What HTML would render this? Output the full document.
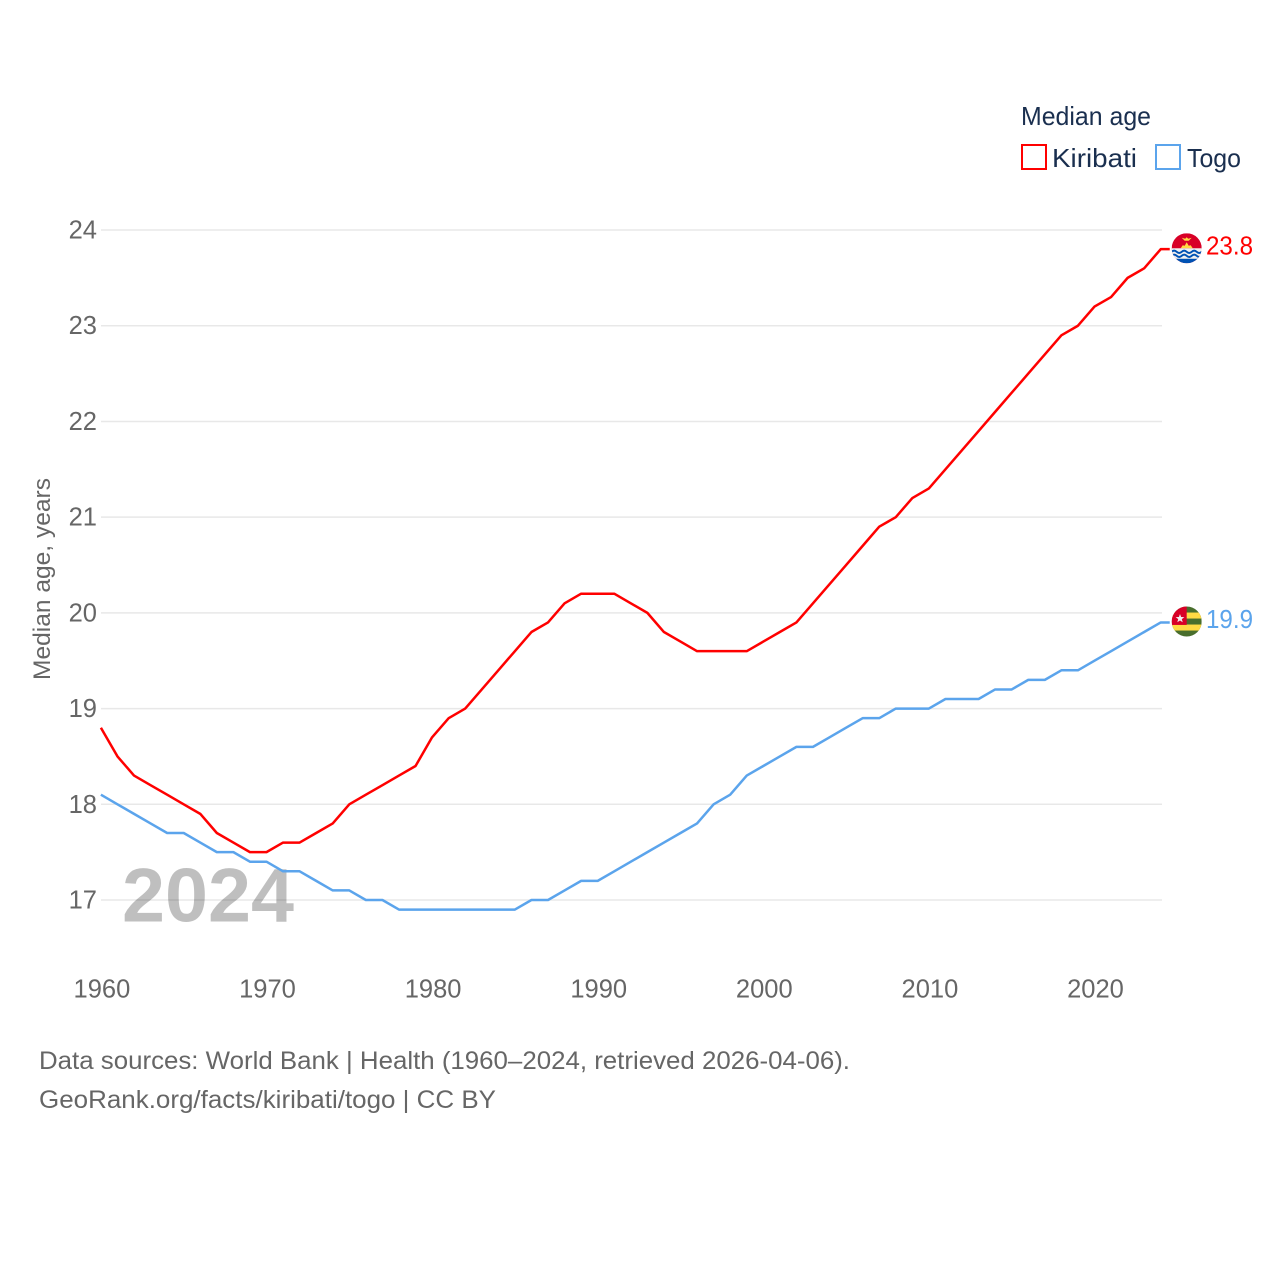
<!DOCTYPE html>
<html lang="en">
<head>
<meta charset="utf-8">
<title>Median age: Kiribati and Togo</title>
<style>
html,body{margin:0;padding:0;background:#fff;width:1280px;height:1280px;overflow:hidden}
svg{display:block}
text{font-family:"Liberation Sans",sans-serif}
</style>
</head>
<body>
<svg id="chart" xmlns="http://www.w3.org/2000/svg" width="1280" height="1280" viewBox="0 0 1280 1280">
  <rect width="1280" height="1280" fill="#fff"/>
  <defs>
    <clipPath id="flag-clip"><circle cx="0" cy="0" r="15"/></clipPath>
  </defs>
  <g id="grid"></g>
  <text x="122" y="921.5" font-size="76" font-weight="700" fill="#000" fill-opacity="0.25" textLength="172" lengthAdjust="spacingAndGlyphs">2024</text>
  <g id="y-ticks"></g>
  <g id="x-ticks"></g>
  <text transform="translate(50,680) rotate(-90)" font-size="24.5" fill="#666" textLength="202" lengthAdjust="spacingAndGlyphs">Median age, years</text>
  <g id="series"></g>

  <g>
    <text x="1021" y="125" font-size="26" fill="#1a2f4f" textLength="130" lengthAdjust="spacingAndGlyphs">Median age</text>
    <g>
      <rect x="1022" y="145" width="24" height="24" fill="#fff" stroke="#ff0000" stroke-width="2"/>
      <text x="1052" y="167" font-size="26" fill="#1a2f4f" textLength="85" lengthAdjust="spacingAndGlyphs">Kiribati</text>
    </g>
    <g>
      <rect x="1156" y="145" width="24" height="24" fill="#fff" stroke="#5ba4ec" stroke-width="2"/>
      <text x="1187" y="167" font-size="26" fill="#1a2f4f" textLength="54" lengthAdjust="spacingAndGlyphs">Togo</text>
    </g>
  </g>

  <g id="flag-kiribati">
    <g clip-path="url(#flag-clip)">
      <rect x="-15" y="-15" width="30" height="30" fill="#d80027"/>
      <path d="M-6 0 L-4 -3 L-2 -2.5 L0 -6 L2 -2.5 L4 -3 L6 0Z" fill="#ffda44"/>
      <path d="M-5 -10.5 L-1.5 -9.5 L0 -11 L1.5 -9.5 L5 -10.5 L2 -7.5 L-2 -7.5Z" fill="#ffda44"/>
      <rect x="-15" y="0" width="30" height="11" fill="#f0f0f0"/>
      <rect x="-15" y="10.5" width="30" height="4.5" fill="#0052b4"/>
      <path d="M-15 3.5 q2.5 -2.4 5 0 t5 0 t5 0 t5 0 t5 0 t5 0" fill="none" stroke="#0052b4" stroke-width="1.9"/>
      <path d="M-15 7.5 q2.5 -2.4 5 0 t5 0 t5 0 t5 0 t5 0 t5 0" fill="none" stroke="#0052b4" stroke-width="1.9"/>
    </g>
  </g>
  <g id="flag-togo">
    <g clip-path="url(#flag-clip)">
      <rect x="-15" y="-15" width="30" height="30" fill="#496e2d"/>
      <rect x="-15" y="-9" width="30" height="6" fill="#ffda44"/>
      <rect x="-15" y="3" width="30" height="6" fill="#ffda44"/>
      <rect x="-15" y="-15" width="15" height="18.4" fill="#d80027"/>
      <polygon transform="translate(-6.7,-3)" points="0,-4.6 1.12,-1.54 4.37,-1.42 1.81,0.59 2.7,3.72 0,1.9 -2.7,3.72 -1.81,0.59 -4.37,-1.42 -1.12,-1.54" fill="#f0f0f0"/>
    </g>
  </g>
  <text id="value-kiribati" x="1206" font-size="25.5" fill="#ff0000" textLength="47" lengthAdjust="spacingAndGlyphs"></text>
  <text id="value-togo" x="1206" font-size="25.5" fill="#5ba4ec" textLength="47" lengthAdjust="spacingAndGlyphs"></text>

  <text x="39" y="1069" font-size="25" fill="#666" textLength="811" lengthAdjust="spacingAndGlyphs">Data sources: World Bank | Health (1960–2024, retrieved 2026-04-06).</text>
  <text x="39" y="1108" font-size="25" fill="#666" textLength="457" lengthAdjust="spacingAndGlyphs">GeoRank.org/facts/kiribati/togo | CC BY</text>
</svg>
<script>
const years = [1960,1961,1962,1963,1964,1965,1966,1967,1968,1969,1970,1971,1972,1973,1974,1975,1976,1977,1978,1979,1980,1981,1982,1983,1984,1985,1986,1987,1988,1989,1990,1991,1992,1993,1994,1995,1996,1997,1998,1999,2000,2001,2002,2003,2004,2005,2006,2007,2008,2009,2010,2011,2012,2013,2014,2015,2016,2017,2018,2019,2020,2021,2022,2023,2024];
const kiribati = [18.8,18.5,18.3,18.2,18.1,18.0,17.9,17.7,17.6,17.5,17.5,17.6,17.6,17.7,17.8,18.0,18.1,18.2,18.3,18.4,18.7,18.9,19.0,19.2,19.4,19.6,19.8,19.9,20.1,20.2,20.2,20.2,20.1,20.0,19.8,19.7,19.6,19.6,19.6,19.6,19.7,19.8,19.9,20.1,20.3,20.5,20.7,20.9,21.0,21.2,21.3,21.5,21.7,21.9,22.1,22.3,22.5,22.7,22.9,23.0,23.2,23.3,23.5,23.6,23.8];
const togo = [18.1,18.0,17.9,17.8,17.7,17.7,17.6,17.5,17.5,17.4,17.4,17.3,17.3,17.2,17.1,17.1,17.0,17.0,16.9,16.9,16.9,16.9,16.9,16.9,16.9,16.9,17.0,17.0,17.1,17.2,17.2,17.3,17.4,17.5,17.6,17.7,17.8,18.0,18.1,18.3,18.4,18.5,18.6,18.6,18.7,18.8,18.9,18.9,19.0,19.0,19.0,19.1,19.1,19.1,19.2,19.2,19.3,19.3,19.4,19.4,19.5,19.6,19.7,19.8,19.9];
const yTickLabels = [17,18,19,20,21,22,23,24];
const xTickLabels = [1960,1970,1980,1990,2000,2010,2020];

const NS = 'http://www.w3.org/2000/svg';
function xScale(year){ return 100.9 + (year - 1960) * 16.56; }
function yScale(v){ return 900 - (v - 17) * 95.71; }
function create(tag, parentId, props){
  const el = document.createElementNS(NS, tag);
  for (const k in props) el.setAttribute(k, props[k]);
  document.getElementById(parentId).appendChild(el);
  return el;
}

yTickLabels.forEach(function(t){
  const line = create('line', 'grid', {x1:101, x2:1162, y1:yScale(t), y2:yScale(t), stroke:'#e8e8e8', 'stroke-width':1.5});
  
  
  const label = create('text', 'y-ticks', {x:97, y:yScale(t) + 8.5, 'text-anchor':'end', 'font-size':25.5, fill:'#666'});
  
  
  label.textContent = t;
});

xTickLabels.forEach(function(t){
  const label = create('text', 'x-ticks', {x:xScale(t) + 1, y:997.5, 'text-anchor':'middle', 'font-size':25.5, fill:'#666'});
  
  
  label.textContent = t;
});

function drawSeries(values, color, id){
  const pts = values.map(function(v, i){ return xScale(years[i]).toFixed(2) + ',' + yScale(v).toFixed(2); });
  const last = values[values.length - 1];
  const endX = xScale(years[years.length - 1]);
  pts.push((endX + 9).toFixed(2) + ',' + yScale(last).toFixed(2));
  const line = create('polyline', 'series', {points:pts.join(' '), fill:'none', stroke:color, 'stroke-width':2.5, 'stroke-linejoin':'round'});
  
  
  document.getElementById('flag-' + id).setAttribute('transform', 'translate(1186.7,' + (yScale(last) - 0.9).toFixed(2) + ')');
  const val = document.getElementById('value-' + id);
  val.setAttribute('y', (yScale(last) + 5.5).toFixed(2));
  val.textContent = last.toFixed(1);
}
drawSeries(togo, '#5ba4ec', 'togo');
drawSeries(kiribati, '#ff0000', 'kiribati');
</script>
</body>
</html>
